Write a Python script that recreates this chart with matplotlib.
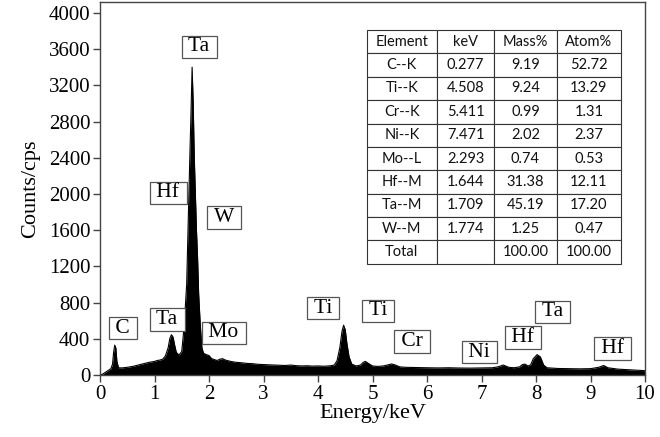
import matplotlib
matplotlib.use("Agg")
import matplotlib.pyplot as plt

# EDS spectrum (energy in keV, counts in cps)
energy = [0.00, 0.05, 0.10, 0.15, 0.20, 0.23, 0.25, 0.27, 0.29, 0.31, 0.34, 0.40,
          0.50, 0.60, 0.70, 0.80, 0.90, 1.00, 1.05, 1.10, 1.15, 1.20, 1.25, 1.28,
          1.31, 1.34, 1.37, 1.40, 1.45, 1.50, 1.53, 1.56, 1.59, 1.61, 1.63, 1.65,
          1.67, 1.69, 1.71, 1.73, 1.75, 1.77, 1.79, 1.81, 1.84, 1.87, 1.90, 1.95,
          2.00, 2.05, 2.10, 2.15, 2.20, 2.25, 2.30, 2.40, 2.50, 2.60, 2.70, 2.80,
          2.90, 3.00, 3.10, 3.20, 3.30, 3.40, 3.50, 3.60, 3.70, 3.80, 3.90, 4.00,
          4.10, 4.20, 4.30, 4.35, 4.40, 4.44, 4.47, 4.50, 4.53, 4.57, 4.62, 4.70,
          4.78, 4.83, 4.87, 4.92, 5.00, 5.10, 5.20, 5.30, 5.35, 5.42, 5.50, 5.60,
          5.80, 6.00, 6.20, 6.40, 6.60, 6.80, 7.00, 7.20, 7.30, 7.40, 7.50, 7.60,
          7.70, 7.75, 7.80, 7.85, 7.90, 7.95, 8.02, 8.08, 8.14, 8.20, 8.40, 8.60,
          8.80, 9.00, 9.15, 9.24, 9.32, 9.50, 9.70, 9.90, 10.00]
counts = [0, 10, 30, 50, 70, 120, 250, 330, 300, 150, 80, 78,
          85, 95, 110, 125, 140, 150, 160, 165, 175, 210, 300, 400,
          445, 420, 330, 250, 220, 260, 450, 700, 1000, 1500, 2000, 2450,
          2900, 3400, 3000, 2400, 2000, 1600, 1300, 900, 550, 300, 240, 225,
          215, 180, 170, 160, 175, 180, 165, 150, 140, 135, 128, 125,
          118, 115, 112, 110, 108, 105, 110, 103, 100, 102, 98, 100,
          97, 100, 110, 160, 300, 480, 550, 500, 350, 200, 120, 100,
          110, 140, 150, 130, 100, 95, 100, 115, 122, 110, 90, 85,
          82, 80, 78, 80, 77, 76, 78, 80, 90, 110, 85, 80,
          90, 115, 120, 100, 110, 180, 225, 200, 110, 80, 72, 70,
          68, 70, 85, 105, 80, 65, 58, 50, 48]

# peak labels and where they sit (keV, cps)
peak_names = ["C", "Ta", "Hf", "Ta", "W", "Mo", "Ti", "Ti", "Cr", "Ni", "Hf", "Ta", "Hf"]
peak_x = [0.42, 1.23, 1.25, 1.82, 2.27, 2.27, 4.09, 5.10, 5.72, 6.96, 7.76, 8.31, 9.41]
peak_y = [519, 613, 2011, 3624, 1740, 464, 740, 707, 370, 254, 416, 696, 291]

# composition table
table_header = ["Element", "keV", "Mass%", "Atom%"]
elements = ["C--K", "Ti--K", "Cr--K", "Ni--K", "Mo--L", "Hf--M", "Ta--M", "W--M", "Total"]
kev = ["0.277", "4.508", "5.411", "7.471", "2.293", "1.644", "1.709", "1.774", ""]
mass_pct = ["9.19", "9.24", "0.99", "2.02", "0.74", "31.38", "45.19", "1.25", "100.00"]
atom_pct = ["52.72", "13.29", "1.31", "2.37", "0.53", "12.11", "17.20", "0.47", "100.00"]

serif = "Liberation Serif"

fig = plt.figure(figsize=(6.6, 4.37), dpi=100)
ax = fig.add_axes([100 / 660, 1 - 375 / 437, 545 / 660, 373 / 437])

ax.fill_between(energy, 0, counts, color="black", linewidth=0)
ax.plot(energy, counts, color="black", linewidth=0.8)

for name, x, y in zip(peak_names, peak_x, peak_y):
    ax.text(x, y, f" {name} ", family=serif, fontsize=15.5, ha="center", va="center",
            bbox=dict(boxstyle="square,pad=0.08", facecolor="white",
                      edgecolor="#555555", linewidth=0.9))

ax.set_xlim(0, 10)
ax.set_ylim(0, 4120)
ax.set_xticks(range(0, 11))
ax.set_yticks(range(0, 4001, 400))
ax.tick_params(direction="out", length=5, width=1, labelsize=15, color="#444444", pad=2)
for lab in ax.get_xticklabels() + ax.get_yticklabels():
    lab.set_family(serif)
for sp in ax.spines.values():
    sp.set_color("#444444")
    sp.set_linewidth(1.0)

ax.set_xlabel("Energy/keV", family=serif, fontsize=16, labelpad=0)
ax.set_ylabel("Counts/cps", family=serif, fontsize=16, labelpad=6)

rows = [list(r) for r in zip(elements, kev, mass_pct, atom_pct)]
col_w = [70.6, 57.0, 62.4, 64.3]
tot = sum(col_w)
tbl = ax.table(cellText=rows, colLabels=table_header, cellLoc="center",
               colWidths=[w / tot for w in col_w],
               bbox=[0.489, 0.298, 0.467, 0.627])
tbl.auto_set_font_size(False)
for cell in tbl.get_celld().values():
    cell.set_edgecolor("#333333")
    cell.set_linewidth(0.8)
    cell.get_text().set_fontfamily("Lato")
    cell.get_text().set_fontsize(10.5)
    cell.get_text().set_color("#111111")

fig.savefig("out.png", dpi=100)
